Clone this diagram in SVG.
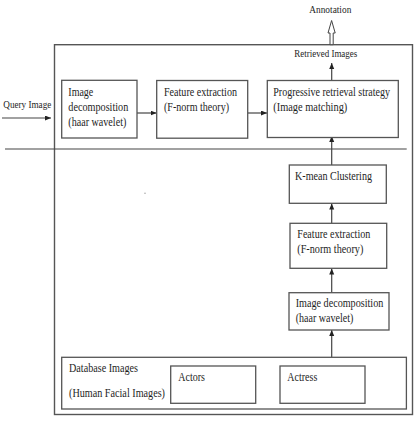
<svg xmlns="http://www.w3.org/2000/svg" width="419" height="421" viewBox="0 0 419 421">
<defs>
<marker id="ah" markerUnits="userSpaceOnUse" markerWidth="7" markerHeight="6" refX="6" refY="2.5" orient="auto">
<path d="M0,0 L6,2.5 L0,5 z" fill="#222"/>
</marker>
<style>
.box{fill:#fff;stroke:#555;stroke-width:1.3}
.ln{fill:none;stroke:#444;stroke-width:1.2}
.t{font-family:"Liberation Serif","Times New Roman",serif;font-size:12.5px;fill:#1e1e1e}
.s{font-family:"Liberation Serif","Times New Roman",serif;font-size:11px;fill:#1e1e1e}
</style>
</defs>
<rect width="419" height="421" fill="#fff"/>
<g id="outer"><rect x="54.5" y="44.7" width="358" height="369.8" fill="none" stroke="#555" stroke-width="1.4"/></g>
<g id="connectors">
<line class="ln" x1="5" y1="149" x2="406.7" y2="149"/>
<line class="ln" x1="2" y1="118" x2="51" y2="118" marker-end="url(#ah)"/>
<line class="ln" x1="137" y1="113" x2="156.5" y2="113" marker-end="url(#ah)"/>
<line class="ln" x1="247.7" y1="113" x2="267" y2="113" marker-end="url(#ah)"/>
<line class="ln" x1="331.7" y1="80.7" x2="331.7" y2="63" marker-end="url(#ah)"/>
<line class="ln" x1="331.7" y1="165" x2="331.7" y2="136" marker-end="url(#ah)"/>
<line class="ln" x1="331.7" y1="223.3" x2="331.7" y2="203.5" marker-end="url(#ah)"/>
<line class="ln" x1="331.7" y1="292.7" x2="331.7" y2="268.5" marker-end="url(#ah)"/>
<line class="ln" x1="331.7" y1="357.3" x2="331.7" y2="330" marker-end="url(#ah)"/>
<polygon points="330,44.7 330,33 328,33 331.6,20.5 335.2,33 333.2,33 333.2,44.7" fill="#fff" stroke="#444" stroke-width="1"/>
</g>
<g id="labels">
<text class="s" x="3.3" y="108" textLength="48" lengthAdjust="spacingAndGlyphs">Query Image</text>
<text class="s" x="309.3" y="12.5" textLength="42" lengthAdjust="spacingAndGlyphs">Annotation</text>
<text class="s" x="294.3" y="57" textLength="63" lengthAdjust="spacingAndGlyphs">Retrieved Images</text>
</g>
<g id="imgdec1">
<rect class="box" x="61.7" y="80.3" width="75.3" height="57.7"/>
<text class="t" x="68.3" y="96" textLength="25" lengthAdjust="spacingAndGlyphs">Image</text>
<text class="t" x="68.3" y="110.5" textLength="60" lengthAdjust="spacingAndGlyphs">decomposition</text>
<text class="t" x="68.3" y="126" textLength="58" lengthAdjust="spacingAndGlyphs">(haar wavelet)</text>
</g>
<g id="feat1">
<rect class="box" x="156.7" y="80.5" width="91" height="57.7"/>
<text class="t" x="164" y="95.5" textLength="73" lengthAdjust="spacingAndGlyphs">Feature extraction</text>
<text class="t" x="164" y="110.5" textLength="65" lengthAdjust="spacingAndGlyphs">(F-norm theory)</text>
</g>
<g id="prog">
<rect class="box" x="267.3" y="80.5" width="131" height="57"/>
<text class="t" x="273.3" y="95.5" textLength="116.7" lengthAdjust="spacingAndGlyphs">Progressive retrieval strategy</text>
<text class="t" x="273.3" y="110.5" textLength="74" lengthAdjust="spacingAndGlyphs">(Image matching)</text>
</g>
<g id="kmean">
<rect class="box" x="289.3" y="165" width="97" height="38.3"/>
<text class="t" x="295" y="180" textLength="77" lengthAdjust="spacingAndGlyphs">K-mean Clustering</text>
</g>
<g id="feat2">
<rect class="box" x="290" y="223.3" width="96.7" height="45"/>
<text class="t" x="297.3" y="238" textLength="73" lengthAdjust="spacingAndGlyphs">Feature extraction</text>
<text class="t" x="297.3" y="253" textLength="66" lengthAdjust="spacingAndGlyphs">(F-norm theory)</text>
</g>
<g id="imgdec2">
<rect class="box" x="289" y="292.7" width="100" height="37.3"/>
<text class="t" x="295.7" y="307" textLength="87.6" lengthAdjust="spacingAndGlyphs">Image decomposition</text>
<text class="t" x="295.7" y="322" textLength="57.6" lengthAdjust="spacingAndGlyphs">(haar wavelet)</text>
</g>
<g id="database">
<rect class="box" x="61.7" y="357.3" width="344.7" height="51.7"/>
<text class="t" x="69" y="371.5" textLength="69" lengthAdjust="spacingAndGlyphs">Database Images</text>
<text class="t" x="69" y="397" textLength="96" lengthAdjust="spacingAndGlyphs">(Human Facial Images)</text>
</g>
<g id="actors">
<rect class="box" x="170.7" y="366" width="85" height="37.3"/>
<text class="t" x="178.3" y="380.5" textLength="26.7" lengthAdjust="spacingAndGlyphs">Actors</text>
</g>
<g id="actress">
<rect class="box" x="280" y="366" width="85" height="37.3"/>
<text class="t" x="287.3" y="380.5" textLength="30" lengthAdjust="spacingAndGlyphs">Actress</text>
</g>
<circle cx="145" cy="193.3" r="0.7" fill="#999"/>
</svg>
